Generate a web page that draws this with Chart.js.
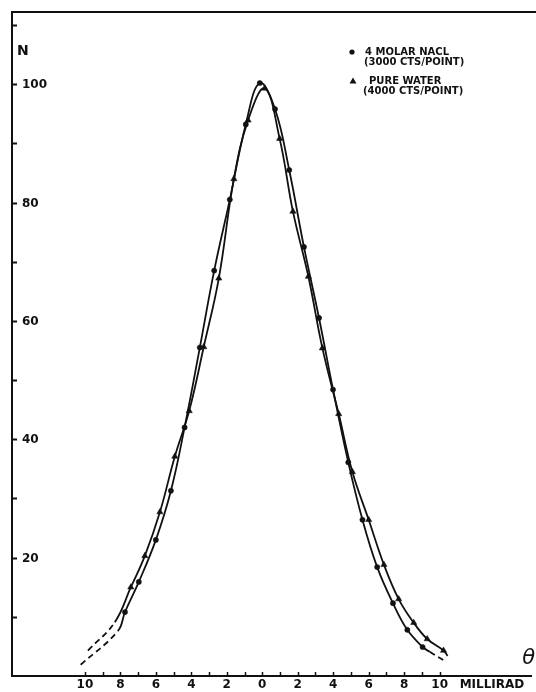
<!DOCTYPE html>
<html>
<head>
<meta charset="utf-8">
<script src="https://cdn.jsdelivr.net/npm/chart.js@4.4.1/dist/chart.umd.min.js"></script>
<style>
  html, body { margin: 0; padding: 0; background: #fff; }
  #wrap { width: 536px; height: 692px; }
</style>
</head>
<body>
<div id="wrap"><canvas id="myChart" width="536" height="692"></canvas></div>
<script>
// 4 molar NaCl (circles)
const naclTheta = [-7.74, -6.96, -6.0, -5.15, -4.38, -3.52, -2.71, -1.83, -0.93, -0.14,
                   0.72, 1.52, 2.35, 3.2, 3.99, 4.85, 5.65, 6.48, 7.37, 8.18, 9.04];
const naclCounts = [10.8, 15.9, 23.0, 31.3, 42.0, 55.5, 68.5, 80.5, 93.2, 100.2,
                    95.8, 85.5, 72.5, 60.5, 48.4, 36.1, 26.4, 18.4, 12.3, 7.8, 4.9];

// pure water (triangles)
const waterTheta = [-7.41, -6.62, -5.77, -4.93, -4.12, -3.3, -2.45, -1.6, -0.8, 0.14,
                    0.98, 1.73, 2.6, 3.39, 4.31, 5.08, 6.0, 6.86, 7.69, 8.54, 9.3, 10.22];
const waterCounts = [15.0, 20.3, 27.7, 37.1, 44.8, 55.6, 67.2, 84.0, 93.9, 99.3,
                     90.8, 78.5, 67.5, 55.4, 44.3, 34.5, 26.4, 18.8, 13.0, 9.0, 6.25, 4.3];

// where the drawn curves stop: left [dashed end, solid end], right [solid end, dashed end]
const naclEndsTheta = [-10.24, -8.14, 9.44, 10.37];
const naclEndsCounts = [1.9, 7.6, 4.1, 2.4];
const waterEndsTheta = [-9.83, -8.31, 10.45]; // right side stays solid
const waterEndsCounts = [4.3, 9.1, 3.4];

// axes
const thetaTicks = [-10, -9, -8, -7, -6, -5, -4, -3, -2, -1, 0, 1, 2, 3, 4, 5, 6, 7, 8, 9, 10];
const thetaLabels = ['10', '', '8', '', '6', '', '4', '', '2', '', '0', '', '2', '', '4', '', '6', '', '8', '', '10'];
const countTicks = [10, 20, 30, 40, 50, 60, 70, 80, 90, 100, 110];
const countLabels = ['', '20', '', '40', '', '60', '', '80', '', '100', ''];

const seriesNames = ['4 MOLAR NACL', 'PURE WATER'];
const seriesNotes = ['(3000 CTS/POINT)', '(4000 CTS/POINT)'];

const ink = '#111';
const font = '"DejaVu Sans", sans-serif';

function toPoints(xs, ys) {
  return xs.map((x, i) => ({ x: x, y: ys[i] }));
}

const naclLine = toPoints(naclEndsTheta.slice(0, 2), naclEndsCounts.slice(0, 2))
  .concat(toPoints(naclTheta, naclCounts))
  .concat(toPoints(naclEndsTheta.slice(2), naclEndsCounts.slice(2)));
const waterLine = toPoints(waterEndsTheta.slice(0, 2), waterEndsCounts.slice(0, 2))
  .concat(toPoints(waterTheta, waterCounts))
  .concat(toPoints(waterEndsTheta.slice(2), waterEndsCounts.slice(2)));

const dash = [6, 4];

// axis frame, inward ticks, tick labels and the hand-lettered key
const paperPlugin = {
  id: 'paper',
  afterDraw(chart) {
    const ctx = chart.ctx;
    const area = chart.chartArea;
    const xs = chart.scales.x;
    const ys = chart.scales.y;
    ctx.save();
    ctx.strokeStyle = ink;
    ctx.fillStyle = ink;

    // top frame line
    ctx.lineWidth = 2;
    ctx.beginPath();
    ctx.moveTo(area.left - 1, area.top);
    ctx.lineTo(chart.width, area.top);
    ctx.stroke();

    // y ticks point into the plot
    ctx.beginPath();
    countTicks.forEach(v => {
      const y = Math.round(ys.getPixelForValue(v)) + 0.5;
      ctx.moveTo(area.left, y);
      ctx.lineTo(area.left + 5, y);
    });
    ctx.stroke();

    // x ticks point up
    ctx.lineWidth = 1.5;
    ctx.beginPath();
    thetaTicks.forEach(v => {
      const x = Math.round(xs.getPixelForValue(v)) + 0.5;
      ctx.moveTo(x, area.bottom);
      ctx.lineTo(x, area.bottom - 4);
    });
    ctx.stroke();

    ctx.textBaseline = 'middle';
    ctx.font = 'bold 12px ' + font;

    ctx.textAlign = 'left';
    countTicks.forEach((v, i) => {
      ctx.fillText(countLabels[i], area.left + 10, ys.getPixelForValue(v) + 1);
    });

    ctx.textAlign = 'center';
    thetaTicks.forEach((v, i) => {
      ctx.fillText(thetaLabels[i], xs.getPixelForValue(v), area.bottom + 9);
    });

    ctx.textAlign = 'left';
    ctx.fillText('MILLIRAD', xs.getPixelForValue(10) + 20, area.bottom + 9);

    ctx.font = 'bold 14px ' + font;
    ctx.fillText('N', area.left + 5, ys.getPixelForValue(105.5));

    ctx.font = 'italic 21px ' + font;
    ctx.textAlign = 'right';
    ctx.fillText('θ', chart.width - 1, ys.getPixelForValue(3));

    // key
    ctx.textAlign = 'left';
    ctx.font = 'bold 10px ' + font;
    ctx.beginPath();
    ctx.arc(352, 52, 2.6, 0, Math.PI * 2);
    ctx.fill();
    ctx.fillText(seriesNames[0], 365, 52);
    ctx.fillText(seriesNotes[0], 364, 62);

    ctx.beginPath();
    ctx.moveTo(353, 77.5);
    ctx.lineTo(356.5, 83.5);
    ctx.lineTo(349.5, 83.5);
    ctx.closePath();
    ctx.fill();
    ctx.fillText(seriesNames[1], 369, 81);
    ctx.fillText(seriesNotes[1], 363, 91);
    ctx.restore();
  }
};

const axisStyle = {
  grid: { display: true, drawOnChartArea: false, drawTicks: false },
  border: { display: true, color: ink, width: 2 },
  ticks: { display: false }
};

const config = {
  type: 'scatter',
  data: {
    datasets: [
      {
        label: seriesNames[0],
        data: toPoints(naclTheta, naclCounts),
        pointStyle: 'circle',
        pointRadius: 2.6,
        pointBackgroundColor: ink,
        pointBorderColor: ink,
        pointBorderWidth: 0.5
      },
      {
        label: seriesNames[1],
        data: toPoints(waterTheta, waterCounts),
        pointStyle: 'triangle',
        pointRadius: 3.6,
        pointBackgroundColor: ink,
        pointBorderColor: ink,
        pointBorderWidth: 0.5
      },
      {
        label: 'nacl curve',
        data: naclLine,
        showLine: true,
        pointRadius: 0,
        borderColor: ink,
        borderWidth: 1.8,
        tension: 0.4,
        segment: {
          // both tails are dashed
          borderDash: c => (c.p0DataIndex === 0 || c.p1DataIndex === naclLine.length - 1) ? dash : undefined
        }
      },
      {
        label: 'water curve',
        data: waterLine,
        showLine: true,
        pointRadius: 0,
        borderColor: ink,
        borderWidth: 1.8,
        tension: 0.4,
        segment: {
          borderDash: c => c.p0DataIndex === 0 ? dash : undefined // left tail only
        }
      }
    ]
  },
  options: {
    responsive: false,
    devicePixelRatio: 1,
    animation: false,
    layout: { padding: { left: 12, top: 12, right: 4, bottom: 16 } },
    plugins: {
      legend: { display: false },
      tooltip: { enabled: false }
    },
    scales: {
      x: Object.assign({
        type: 'linear',
        min: -14.11,
        max: 15.18,
        afterBuildTicks: s => { s.ticks = thetaTicks.map(v => ({ value: v })); }
      }, axisStyle),
      y: Object.assign({
        type: 'linear',
        min: 0,
        max: 112.2,
        afterBuildTicks: s => { s.ticks = countTicks.map(v => ({ value: v })); }
      }, axisStyle)
    }
  },
  plugins: [paperPlugin]
};

const ctx = document.getElementById('myChart').getContext('2d');
new Chart(ctx, config);
</script>
</body>
</html>
